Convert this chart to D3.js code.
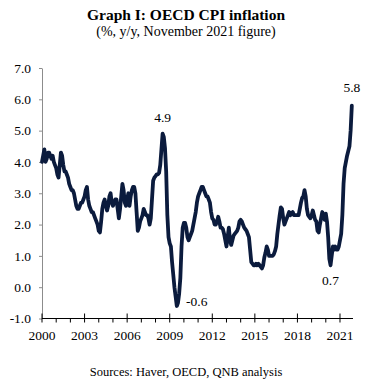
<html>
<head>
<meta charset="utf-8">
<title>OECD CPI inflation</title>
<script src="https://d3js.org/d3.v7.min.js"></script>
</head>
<style>
body { margin: 0; background: #fff; }
text { font-family: "Liberation Serif", "Times New Roman", serif; fill: #000; }
</style>
<body>
<svg id="chart_svg" width="372" height="387"></svg>
<script>
// monthly OECD CPI, % y/y, Jan 2000 - Nov 2021
var startYear = 2000;
var cpi = [
  4.0, 4.2, 4.4, 4.0, 4.1, 4.3, 4.3, 4.2, 4.1, 4.2, 4.0, 3.9,      // 2000
  3.8, 3.6, 3.5, 3.9, 4.3, 4.2, 3.9, 3.7, 3.7, 3.6, 3.5, 3.3,      // 2001
  3.2, 3.1, 3.1, 3.0, 2.8, 2.6, 2.5, 2.5, 2.6, 2.7, 2.7, 2.8,      // 2002
  2.9, 3.1, 3.2, 2.8, 2.6, 2.5, 2.4, 2.4, 2.3, 2.2, 2.1, 2.0,      // 2003
  1.8, 1.75, 2.1, 2.5, 2.7, 2.8, 2.6, 2.45, 2.6, 2.9, 3.0, 2.7,    // 2004
  2.6, 2.7, 2.8, 2.8, 2.5, 2.2, 2.5, 2.9, 3.3, 3.1, 2.7, 2.6,      // 2005
  2.8, 3.0, 2.6, 2.9, 3.1, 3.2, 3.2, 3.0, 2.4, 1.8, 1.9, 2.1,      // 2006
  2.2, 2.3, 2.5, 2.4, 2.3, 2.3, 2.2, 2.0, 2.2, 2.8, 3.4, 3.5,      // 2007
  3.55, 3.6, 3.6, 3.65, 3.9, 4.4, 4.9, 4.8, 4.45, 3.7, 2.3, 1.6,   // 2008
  1.4, 1.3, 0.8, 0.4, 0.0, -0.3, -0.6, -0.5, -0.2, 0.3, 1.3, 1.9,  // 2009
  2.05, 2.05, 1.9, 1.6, 1.5, 1.6, 1.7, 1.8, 2.0, 2.2, 2.4, 2.7,    // 2010
  2.9, 3.0, 3.1, 3.2, 3.2, 3.1, 3.0, 2.9, 2.9, 2.8, 2.7, 2.4,      // 2011
  2.2, 2.15, 2.0, 2.0, 2.1, 2.25, 2.1, 1.9, 1.9, 1.85, 1.7, 1.5,   // 2012
  1.3, 1.6, 1.9, 1.5, 1.35, 1.5, 1.65, 1.7, 1.75, 1.8, 1.9, 2.1,   // 2013
  2.15, 2.1, 2.0, 1.9, 1.85, 1.8, 1.7, 1.6, 1.2, 0.8, 0.75, 0.7,   // 2014
  0.7, 0.75, 0.7, 0.75, 0.7, 0.65, 0.6, 0.7, 0.95, 1.1, 1.3, 1.2,  // 2015
  1.0, 1.0, 1.0, 1.0, 1.05, 1.15, 1.3, 1.7, 2.0, 2.3, 2.55, 2.5,   // 2016
  2.2, 2.0, 2.1, 2.2, 2.3, 2.4, 2.3, 2.35, 2.4, 2.3, 2.3, 2.3,     // 2017
  2.3, 2.3, 2.5, 2.7, 2.85, 2.9, 3.1, 2.9, 2.5, 2.3, 2.25, 2.2,    // 2018
  2.3, 2.45, 2.3, 2.15, 2.1, 1.8, 1.75, 2.0, 2.2, 2.4, 2.3, 2.15,  // 2019
  2.35, 2.1, 1.6, 0.9, 0.7, 1.0, 1.3, 1.2, 1.3, 1.2, 1.2, 1.3,     // 2020
  1.5, 1.7, 2.3, 3.3, 3.8, 4.0, 4.2, 4.35, 4.5, 5.0, 5.8           // 2021
];
var yTicks = [-1, 0, 1, 2, 3, 4, 5, 6, 7];
var yearLabels = [2000, 2003, 2006, 2009, 2012, 2015, 2018, 2021];
var callouts = [
  { label: "4.9", t: 2008 + 6 / 12, v: 4.9 },
  { label: "-0.6", t: 2009 + 6 / 12, v: -0.6 },
  { label: "0.7", t: 2020 + 4 / 12, v: 0.7 },
  { label: "5.8", t: 2021 + 10 / 12, v: 5.8 }
];

var svg = d3.select("#chart_svg");

var points = cpi.map(function (v, i) { return { t: startYear + i / 12, v: v }; });

var x = d3.scaleLinear().domain([2000, 2000 + cpi.length / 12]).range([42, 353]);
var y = d3.scaleLinear().domain([-1, 7]).range([318.5, 68]);

// title
svg.append("text").attr("x", 186).attr("y", 20).attr("text-anchor", "middle")
  .style("font-weight", "bold").style("font-size", "15.5px")
  .text("Graph I: OECD CPI inflation");
svg.append("text").attr("x", 186).attr("y", 36).attr("text-anchor", "middle")
  .style("font-size", "14px")
  .text("(%, y/y, November 2021 figure)");

// y axis (grey)
var yAxis = svg.append("g").attr("transform", "translate(42,0)")
  .call(d3.axisLeft(y).tickValues(yTicks).tickSize(3).tickSizeOuter(0)
    .tickFormat(function (d) { return d.toFixed(1); }));
yAxis.select(".domain").attr("stroke", "#8c8c8c");
yAxis.selectAll(".tick line").attr("stroke", "#8c8c8c");
yAxis.selectAll(".tick text").attr("x", -11).style("font-size", "13.5px")
  .style("font-family", "Liberation Serif, serif").attr("fill", "#000");

// x axis at -1
var xAxisY = y(-1);
svg.append("line").attr("x1", 42).attr("x2", 353).attr("y1", xAxisY).attr("y2", xAxisY)
  .attr("stroke", "#000").attr("stroke-width", 1);
var years = d3.range(2000, 2022);
svg.selectAll("line.minor").data(years).enter().append("line")
  .attr("class", "minor")
  .attr("x1", function (d) { return x(d); }).attr("x2", function (d) { return x(d); })
  .attr("y1", function (d) { return yearLabels.indexOf(d) >= 0 ? xAxisY - 5 : xAxisY; })
  .attr("y2", xAxisY + 4)
  .attr("stroke", "#000");
svg.selectAll("text.year").data(yearLabels).enter().append("text")
  .attr("class", "year")
  .attr("x", function (d) { return x(d); }).attr("y", 340)
  .attr("text-anchor", "middle").style("font-size", "13.5px")
  .text(function (d) { return d; });

// line
var line = d3.line().x(function (d) { return x(d.t); }).y(function (d) { return y(d.v); });
svg.append("path").datum(points)
  .attr("d", line)
  .attr("fill", "none")
  .attr("stroke", "#0b1b3d")
  .attr("stroke-width", 3.8)
  .attr("stroke-linejoin", "round")
  .attr("stroke-linecap", "round");

// callout labels
var offsets = { "4.9": [0, -12], "-0.6": [20, 0], "0.7": [0, 20], "5.8": [0, -14] };
svg.selectAll("text.callout").data(callouts).enter().append("text")
  .attr("class", "callout")
  .attr("x", function (d) { return x(d.t) + offsets[d.label][0]; })
  .attr("y", function (d) { return y(d.v) + offsets[d.label][1]; })
  .attr("text-anchor", "middle").style("font-size", "13.5px")
  .text(function (d) { return d.label; });

// source
svg.append("text").attr("x", 186).attr("y", 376).attr("text-anchor", "middle")
  .style("font-size", "12.5px")
  .text("Sources: Haver, OECD, QNB analysis");
</script>
</body>
</html>
